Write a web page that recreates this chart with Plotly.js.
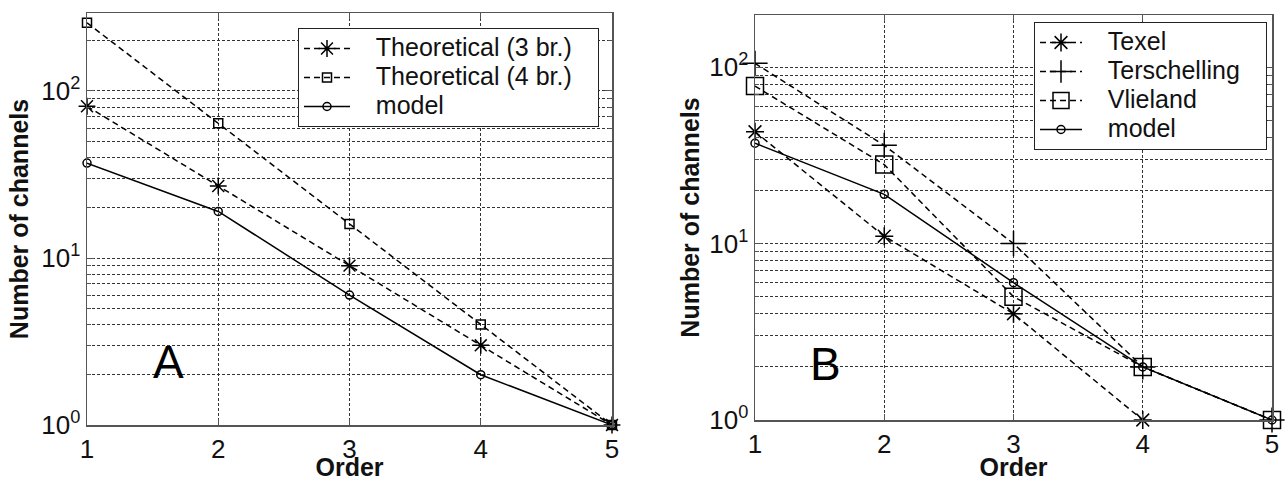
<!DOCTYPE html>
<html>
<head>
<meta charset="utf-8">
<script src="https://cdn.plot.ly/plotly-3.0.1.min.js"></script>
<style>html,body{margin:0;padding:0;background:#fff;}#chart{width:1285px;height:481px;}</style>
</head>
<body>
<div id="chart"></div>
<script>
// ---- data ----
var orders = [1, 2, 3, 4, 5];
var ordersTexel = [1, 2, 3, 4];
// Panel A
var theo3 = [81, 27, 9, 3, 1];
var theo4 = [256, 64, 16, 4, 1];
var modelA = [37, 19, 6, 2, 1];
// Panel B
var texel = [43, 11, 4, 1];
var terschelling = [105, 36, 10, 2, 1];
var vlieland = [78, 28, 5, 2, 1];
var modelB = [37, 19, 6, 2, 1];
var yTickVals = [1, 10, 100];
var yTickText = ['10<sup>0</sup>', '10<sup>1</sup>', '10<sup>2</sup>'];
var xTickVals = [1, 2, 3, 4, 5];
var namesA = ['Theoretical (3 br.)', 'Theoretical (4 br.)', 'model'];
var namesB = ['Texel', 'Terschelling', 'Vlieland', 'model'];

var FONT = 'Liberation Sans, Arial, Helvetica, sans-serif';
var BLK = '#000';
var NB = '\u00A0\u00A0\u00A0';

function big(s) { return '<span style="font-size:25px">' + NB + s + NB + '</span>'; }

function tr(x, y, name, dash, sym, size, xa, ya, leg) {
  return {
    x: x, y: y, name: big(name), type: 'scatter', mode: 'lines+markers',
    xaxis: xa, yaxis: ya, legend: leg, cliponaxis: false,
    line: {color: BLK, width: 1.5, dash: dash},
    marker: {symbol: sym, size: size, color: BLK, line: {color: BLK, width: 1.5}}
  };
}

var data = [
  tr(orders, theo3, namesA[0], '6px,4px', 'asterisk-open', 14, 'x', 'y', 'legend'),
  tr(orders, theo4, namesA[1], '6px,4px', 'square-open', 9, 'x', 'y', 'legend'),
  tr(orders, modelA, namesA[2], 'solid', 'circle-open', 8, 'x', 'y', 'legend'),
  tr(ordersTexel, texel, namesB[0], '6px,4px', 'asterisk-open', 15, 'x2', 'y2', 'legend2'),
  tr(orders, terschelling, namesB[1], '6px,4px', 'cross-thin-open', 18, 'x2', 'y2', 'legend2'),
  tr(orders, vlieland, namesB[2], '6px,4px', 'square-open', 17, 'x2', 'y2', 'legend2'),
  tr(orders, modelB, namesB[3], 'solid', 'circle-open', 8, 'x2', 'y2', 'legend2')
];

function xax(domain, anchor) {
  return {
    domain: domain, anchor: anchor, range: [1, 5], tickvals: xTickVals,
    showline: true, mirror: 'ticks', linecolor: '#555', linewidth: 1.5,
    ticks: 'inside', ticklen: 6, tickcolor: '#555',
    showgrid: true, gridcolor: '#333', griddash: '3px,2px', gridwidth: 1,
    zeroline: false, automargin: false,
    tickfont: {family: FONT, size: 26, color: '#111'},
    title: {text: '<b>Order</b>', font: {family: FONT, size: 25, color: '#111'}, standoff: 0}
  };
}
function yax(domain, anchor, range, standoff) {
  return {
    domain: domain, anchor: anchor, type: 'log', range: range,
    tickvals: yTickVals, ticktext: yTickText,
    showline: true, mirror: 'ticks', linecolor: '#555', linewidth: 1.5,
    ticks: 'inside', ticklen: 7, tickcolor: '#555',
    showgrid: true, gridcolor: '#333', griddash: '3px,2px', gridwidth: 1,
    minor: {showgrid: true, gridcolor: '#333', griddash: '3px,2px', gridwidth: 1, dtick: 'D1', ticks: 'inside', ticklen: 4, tickcolor: '#555'},
    zeroline: false, automargin: false,
    tickfont: {family: FONT, size: 26, color: '#111'},
    title: {text: '<b>Number of channels</b>', font: {family: FONT, size: 25, color: '#111'}, standoff: standoff}
  };
}

var layout = {
  width: 1285, height: 481,
  margin: {l: 0, r: 0, t: 0, b: 0},
  paper_bgcolor: '#fff', plot_bgcolor: '#fff',
  font: {family: FONT, color: '#111'},
  xaxis: xax([87 / 1285, 612 / 1285], 'y'),
  yaxis: yax([1 - 425 / 481, 1 - 13 / 481], 'x', [0, 2.467], 5),
  xaxis2: xax([755 / 1285, 1272 / 1285], 'y2'),
  yaxis2: yax([1 - 420 / 481, 1 - 15 / 481], 'x2', [0, 2.295], 2),
  legend: {
    x: 298 / 1285, y: 1 - 28 / 481, xanchor: 'left', yanchor: 'top',
    bgcolor: '#fff', bordercolor: '#222', borderwidth: 1,
    font: {family: FONT, size: 20, color: '#111'}, tracegroupgap: 0, itemwidth: 46
  },
  legend2: {
    x: 1034 / 1285, y: 1 - 22 / 481, xanchor: 'left', yanchor: 'top',
    bgcolor: '#fff', bordercolor: '#222', borderwidth: 1,
    font: {family: FONT, size: 20, color: '#111'}, tracegroupgap: 0, itemwidth: 42
  },
  showlegend: true,
  annotations: [
    {text: 'A', xref: 'paper', yref: 'paper', x: 168 / 1285, y: 1 - 362 / 481, showarrow: false,
     font: {family: FONT, size: 46, color: '#000'}, xanchor: 'center', yanchor: 'middle'},
    {text: 'B', xref: 'paper', yref: 'paper', x: 825 / 1285, y: 1 - 364 / 481, showarrow: false,
     font: {family: FONT, size: 46, color: '#000'}, xanchor: 'center', yanchor: 'middle'}
  ]
};

Plotly.newPlot('chart', data, layout, {staticPlot: true, displayModeBar: false});
</script>
</body>
</html>
